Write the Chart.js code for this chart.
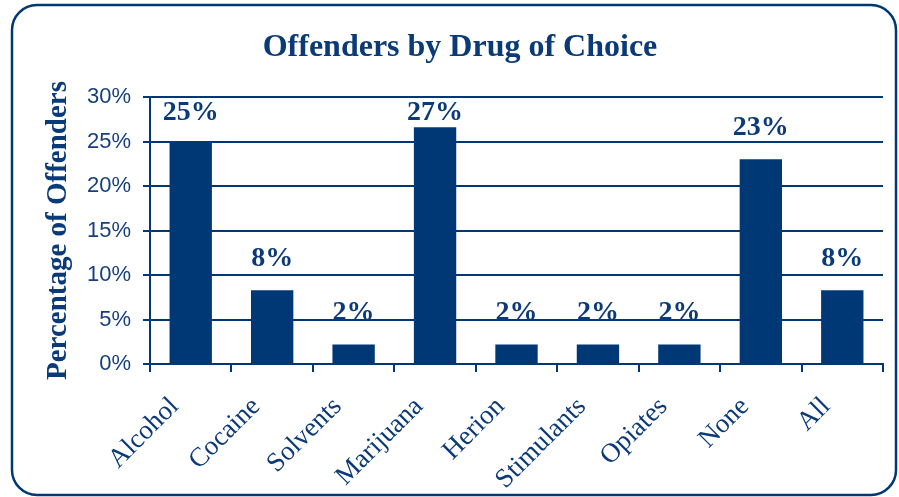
<!DOCTYPE html>
<html>
<head>
<meta charset="utf-8">
<script src="https://cdn.jsdelivr.net/npm/chart.js@4.4.1/dist/chart.umd.min.js"></script>
<style>
  html, body { margin: 0; padding: 0; background: #ffffff; }
  #wrap { position: relative; width: 899px; height: 497px; }
</style>
</head>
<body>
<div id="wrap"><canvas id="c" width="899" height="497"></canvas></div>
<script>
const categories = ['Alcohol', 'Cocaine', 'Solvents', 'Marijuana', 'Herion', 'Stimulants', 'Opiates', 'None', 'All'];
const percentOffenders = [25.0, 8.3, 2.2, 26.6, 2.2, 2.2, 2.2, 23.0, 8.3];
const yTickValues = [0, 5, 10, 15, 20, 25, 30];

const NAVY = '#003876';
const TEXT = '#0b3a78';

const framePlugin = {
  id: 'frame',
  beforeDraw(chart) {
    const ctx = chart.ctx;
    ctx.save();
    ctx.fillStyle = '#ffffff';
    ctx.fillRect(0, 0, chart.width, chart.height);
    ctx.beginPath();
    ctx.roundRect(12, 5, 884, 490, 25);
    ctx.lineWidth = 2.5;
    ctx.strokeStyle = NAVY;
    ctx.stroke();
    ctx.restore();
  }
};

const labelPlugin = {
  id: 'barLabels',
  afterDatasetsDraw(chart) {
    const ctx = chart.ctx;
    const meta = chart.getDatasetMeta(0);
    const area = chart.chartArea;
    ctx.save();
    ctx.font = 'bold 28px "Liberation Serif", "Times New Roman", serif';
    ctx.fillStyle = TEXT;
    ctx.textAlign = 'center';
    ctx.textBaseline = 'alphabetic';
    meta.data.forEach((bar, i) => {
      const v = chart.data.datasets[0].data[i];
      let y = bar.y - 24;
      y = Math.max(y, area.top + 23);
      ctx.fillText(Math.round(v) + '%', bar.x, y);
    });
    ctx.restore();
  }
};

new Chart(document.getElementById('c'), {
  type: 'bar',
  data: {
    labels: categories,
    datasets: [{
      data: percentOffenders,
      backgroundColor: NAVY,
      borderWidth: 0,
      barPercentage: 0.52,
      categoryPercentage: 1.0
    }]
  },
  options: {
    responsive: false,
    animation: false,
    devicePixelRatio: 1,
    layout: { padding: { left: 37, right: 16, top: 0, bottom: 0 } },
    plugins: {
      legend: { display: false },
      tooltip: { enabled: false },
      title: {
        display: true,
        text: 'Offenders by Drug of Choice',
        color: TEXT,
        font: { family: '"Liberation Serif", "Times New Roman", serif', size: 32, weight: 'bold', lineHeight: 1.2 },
        padding: { top: 29, bottom: 29.6 }
      }
    },
    scales: {
      x: {
        grid: {
          display: true,
          drawOnChartArea: false,
          drawTicks: true,
          tickLength: 8,
          color: NAVY,
          lineWidth: 2,
          offset: true
        },
        border: { display: true, color: NAVY, width: 2 },
        ticks: {
          color: TEXT,
          font: { family: '"Liberation Serif", "Times New Roman", serif', size: 27 },
          minRotation: 45,
          maxRotation: 45,
          padding: 19,
          labelOffset: -16,
          autoSkip: false
        },
        afterFit(scale) { scale.height = 133; }
      },
      y: {
        min: 0,
        max: 30,
        afterBuildTicks(scale) { scale.ticks = yTickValues.map(v => ({ value: v })); },
        grid: {
          color: NAVY,
          lineWidth: 2,
          drawTicks: true,
          tickLength: 7
        },
        border: { display: true, color: NAVY, width: 2 },
        ticks: {
          color: '#173f7f',
          font: { family: '"Liberation Sans", Arial, sans-serif', size: 22 },
          padding: 12,
          callback: (v) => v + '%'
        },
        title: {
          display: true,
          text: 'Percentage of Offenders',
          color: TEXT,
          font: { family: '"Liberation Serif", "Times New Roman", serif', size: 29, weight: 'bold' },
          padding: { top: 4, bottom: 4 }
        },
        afterFit(scale) { scale.width = 113; }
      }
    }
  },
  plugins: [framePlugin, labelPlugin]
});
</script>
</body>
</html>
